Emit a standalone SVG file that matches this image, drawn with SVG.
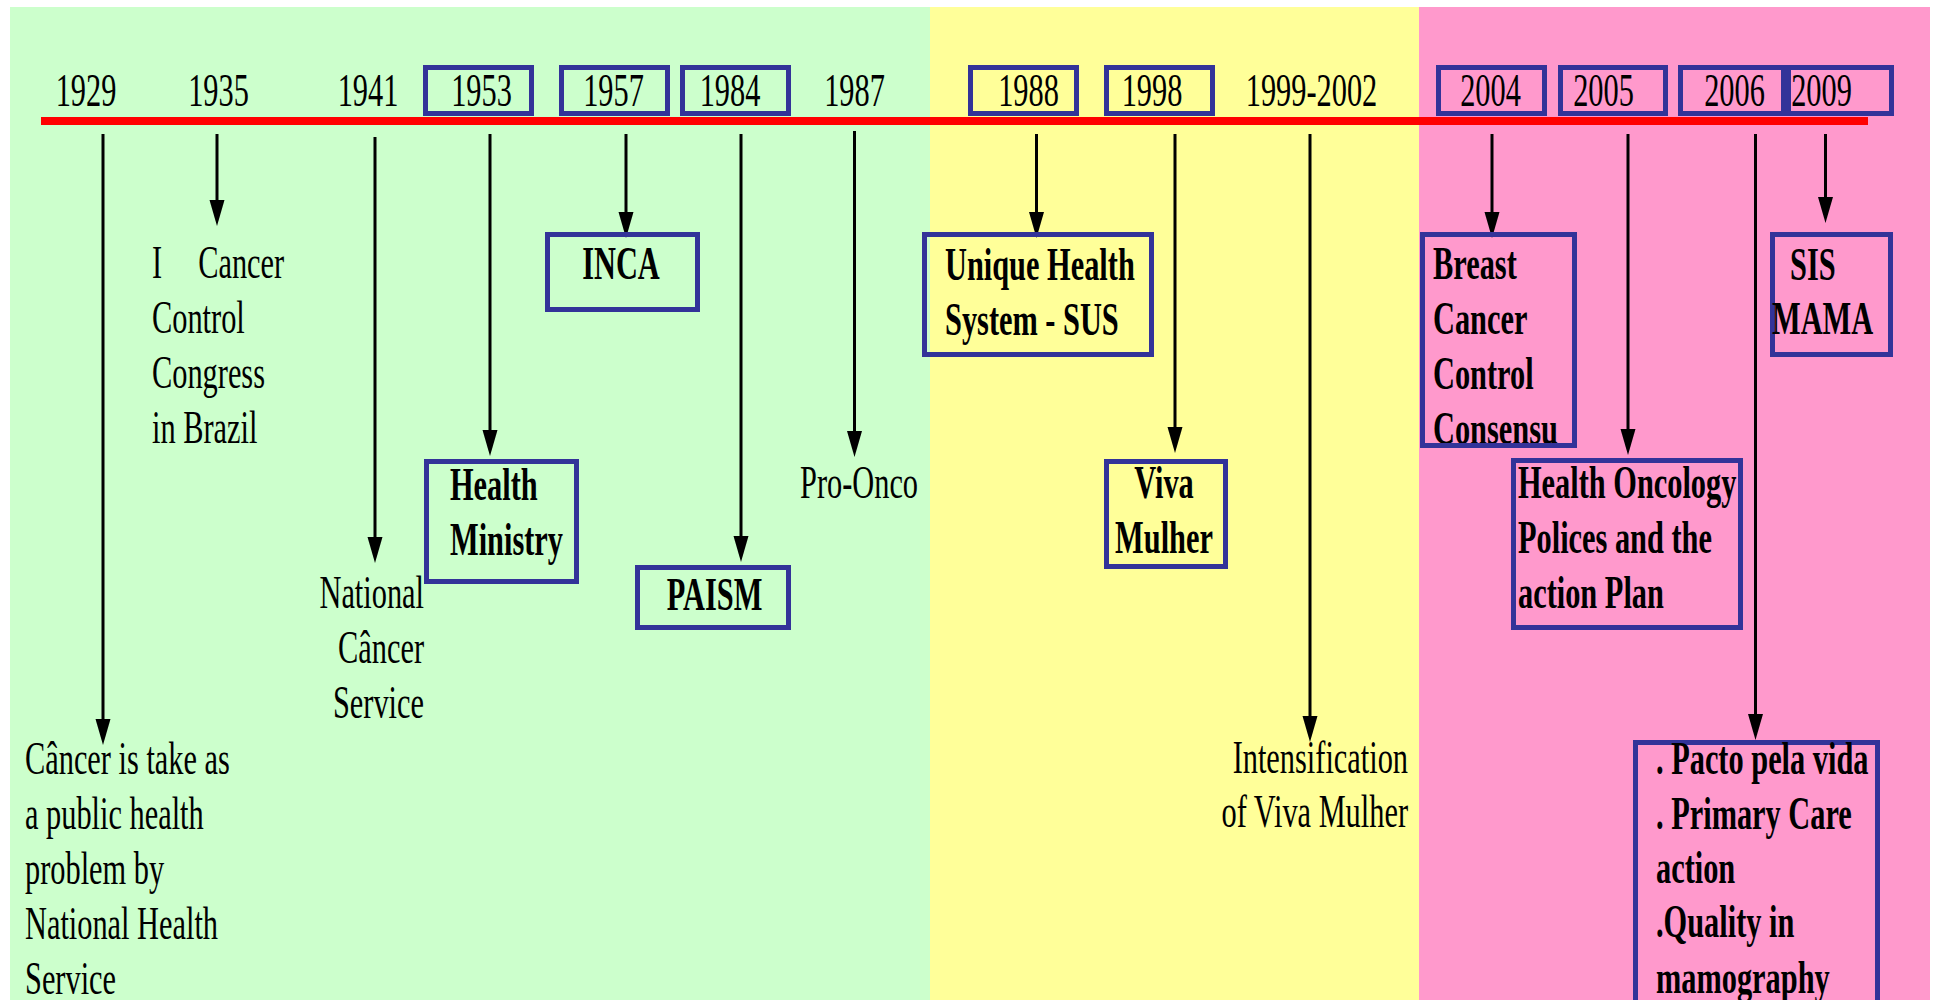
<svg xmlns="http://www.w3.org/2000/svg" width="1933" height="1000" viewBox="0 0 1933 1000">
<defs>
<style>
.t{font-family:"Liberation Serif","Times New Roman",serif;font-size:46px;fill:#000}
.b{font-weight:bold}
.m{text-anchor:middle}
.e{text-anchor:end}
.box{fill:none;stroke:#333399;stroke-width:5}
#connectors line{stroke:#000;stroke-width:3;marker-end:url(#ah)}
</style>
<marker id="ah" markerUnits="userSpaceOnUse" viewBox="0 0 26 16" markerWidth="26" markerHeight="16" refX="2" refY="8" orient="auto"><path d="M0,0.5 L26,8 L0,15.5 z" fill="#000"/></marker>
</defs>

<g id="background">
<rect x="10" y="7" width="920" height="993" fill="#CCFFCC"/>
<rect x="930" y="7" width="489" height="993" fill="#FFFF99"/>
<rect x="1419" y="7" width="511" height="993" fill="#FF99CC"/>
</g>

<g id="timeline">
<rect x="41" y="117" width="1827" height="8" fill="#FF0000"/>
</g>

<g id="connectors">
<line x1="103" y1="134" x2="103" y2="721"/>
<line x1="217" y1="134" x2="217" y2="202"/>
<line x1="375" y1="137" x2="375" y2="539"/>
<line x1="490" y1="134" x2="490" y2="432"/>
<line x1="626" y1="134" x2="626" y2="214"/>
<line x1="741" y1="134" x2="741" y2="538"/>
<line x1="854.5" y1="131" x2="854.5" y2="433"/>
<line x1="1036.5" y1="134" x2="1036.5" y2="214"/>
<line x1="1175" y1="134" x2="1175" y2="429"/>
<line x1="1310" y1="134" x2="1310" y2="718"/>
<line x1="1492" y1="134" x2="1492" y2="214"/>
<line x1="1628" y1="134" x2="1628" y2="431"/>
<line x1="1755.5" y1="134" x2="1755.5" y2="716"/>
<line x1="1825.5" y1="134" x2="1825.5" y2="199"/>
</g>

<g id="year-1929"><text class="t m" transform="translate(86,106) scale(0.66,1)">1929</text></g>
<g id="year-1935"><text class="t m" transform="translate(218.5,106) scale(0.66,1)">1935</text></g>
<g id="year-1941"><text class="t m" transform="translate(368,106) scale(0.66,1)">1941</text></g>
<g id="year-1953"><rect class="box" x="425.5" y="67.5" width="106" height="46"/><text class="t m" transform="translate(481.5,106) scale(0.66,1)">1953</text></g>
<g id="year-1957"><rect class="box" x="561.5" y="67.5" width="106" height="46"/><text class="t m" transform="translate(613.5,106) scale(0.66,1)">1957</text></g>
<g id="year-1984"><rect class="box" x="682.5" y="67.5" width="106" height="46"/><text class="t m" transform="translate(730,106) scale(0.66,1)">1984</text></g>
<g id="year-1987"><text class="t m" transform="translate(854.5,106) scale(0.66,1)">1987</text></g>
<g id="year-1988"><rect class="box" x="970.5" y="67.5" width="106" height="46"/><text class="t m" transform="translate(1028.5,106) scale(0.66,1)">1988</text></g>
<g id="year-1998"><rect class="box" x="1106.5" y="67.5" width="106" height="46"/><text class="t m" transform="translate(1152,106) scale(0.66,1)">1998</text></g>
<g id="year-1999-2002"><text class="t m" transform="translate(1311.5,106) scale(0.66,1)">1999-2002</text></g>
<g id="year-2004"><rect class="box" x="1438.5" y="67.5" width="106" height="46"/><text class="t m" transform="translate(1490.5,106) scale(0.66,1)">2004</text></g>
<g id="year-2005"><rect class="box" x="1560.5" y="67.5" width="105" height="46"/><text class="t m" transform="translate(1603.5,106) scale(0.66,1)">2005</text></g>
<g id="year-2006"><rect class="box" x="1680.5" y="67.5" width="103" height="46"/><text class="t m" transform="translate(1734.5,106) scale(0.66,1)">2006</text></g>
<g id="year-2009"><rect class="box" x="1788.5" y="67.5" width="103" height="46"/><text class="t m" transform="translate(1821.5,106) scale(0.66,1)">2009</text></g>

<g id="node-1929"><text class="t" transform="translate(25,774) scale(0.66,1)"><tspan x="0">Câncer is take as</tspan><tspan x="0" dy="55">a public health</tspan><tspan x="0" dy="55">problem by</tspan><tspan x="0" dy="55">National Health</tspan><tspan x="0" dy="55">Service</tspan></text></g>

<g id="node-1935"><text class="t" transform="translate(152,278) scale(0.66,1)"><tspan x="0">I</tspan><tspan x="70">Cancer</tspan><tspan x="0" dy="55">Control</tspan><tspan x="0" dy="55">Congress</tspan><tspan x="0" dy="55">in Brazil</tspan></text></g>

<g id="node-1941"><text class="t e" transform="translate(424,608) scale(0.66,1)"><tspan x="0">National</tspan><tspan x="0" dy="55">Câncer</tspan><tspan x="0" dy="55">Service</tspan></text></g>

<g id="node-1953"><rect class="box" x="426.5" y="461.5" width="150" height="120"/><text class="t b" transform="translate(450,500) scale(0.66,1)"><tspan x="0">Health</tspan><tspan x="0" dy="55">Ministry</tspan></text></g>

<g id="node-1957"><rect class="box" x="547.5" y="234.5" width="150" height="75"/><text class="t b m" transform="translate(621,279) scale(0.66,1)">INCA</text></g>

<g id="node-1984"><rect class="box" x="637.5" y="567.5" width="151" height="60"/><text class="t b m" transform="translate(714.5,610) scale(0.66,1)">PAISM</text></g>

<g id="node-1987"><text class="t" transform="translate(800,498) scale(0.66,1)">Pro-Onco</text></g>

<g id="node-1988"><rect class="box" x="924.5" y="234.5" width="227" height="120"/><text class="t b" transform="translate(945,280) scale(0.66,1)"><tspan x="0">Unique Health</tspan><tspan x="0" dy="55">System - SUS</tspan></text></g>

<g id="node-1998"><rect class="box" x="1106.5" y="461.5" width="119" height="105"/><text class="t b m" transform="translate(1164,498) scale(0.66,1)"><tspan x="0">Viva</tspan><tspan x="0" dy="55">Mulher</tspan></text></g>

<g id="node-1999-2002"><text class="t e" transform="translate(1408,773) scale(0.66,1)"><tspan x="0">Intensification</tspan><tspan x="0" dy="54">of Viva Mulher</tspan></text></g>

<g id="node-2004"><text class="t b" transform="translate(1433,279) scale(0.66,1)"><tspan x="0">Breast</tspan><tspan x="0" dy="55">Cancer</tspan><tspan x="0" dy="55">Control</tspan><tspan x="0" dy="55">Consensu</tspan></text><rect class="box" x="1422.5" y="234.5" width="152" height="211"/></g>

<g id="node-2005"><rect class="box" x="1513.5" y="460.5" width="227" height="167"/><text class="t b" transform="translate(1518,498) scale(0.66,1)"><tspan x="0">Health Oncology</tspan><tspan x="0" dy="55">Polices and the</tspan><tspan x="0" dy="55">action Plan</tspan></text></g>

<g id="node-2006"><rect class="box" x="1635.5" y="742.5" width="242" height="300"/><text class="t b" transform="translate(1656,774) scale(0.66,1)"><tspan x="0">. Pacto pela vida</tspan><tspan x="0" dy="55">. Primary Care</tspan><tspan x="0" dy="54">action</tspan><tspan x="0" dy="54">.Quality in</tspan><tspan x="0" dy="56">mamography</tspan></text></g>

<g id="node-2009"><rect class="box" x="1772.5" y="234.5" width="118" height="120"/><text class="t b" transform="translate(1790,280) scale(0.66,1)">SIS</text><text class="t b" transform="translate(1772,334) scale(0.66,1)">MAMA</text></g>
</svg>
